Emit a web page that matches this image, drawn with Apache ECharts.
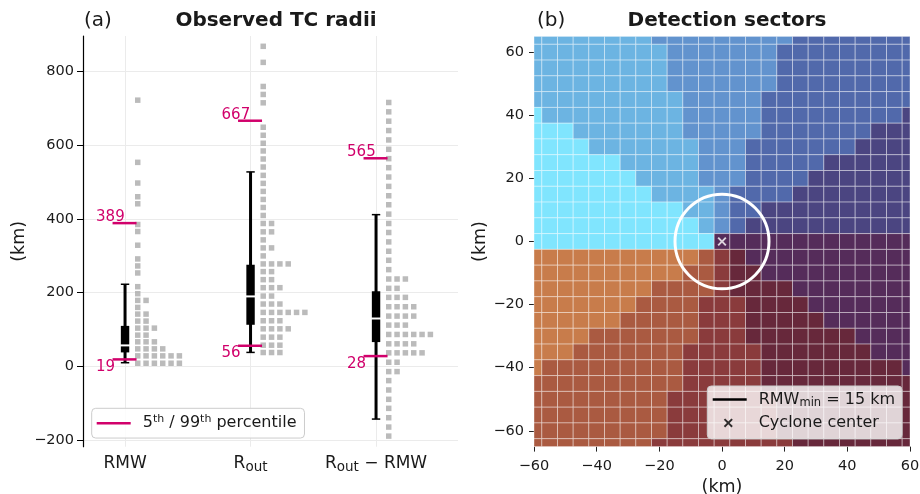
<!DOCTYPE html>
<html>
<head>
<meta charset="utf-8">
<script src="https://cdn.jsdelivr.net/npm/echarts@6/dist/echarts.min.js"></script>
<style>html,body{margin:0;padding:0;background:#fff}#c{width:920px;height:494px}</style>
</head>
<body>
<div id="c"></div>
<script>
// ---------------- data: panel (a) ----------------
const categories = ['RMW', 'R_out', 'R_out − RMW'];
const categoryPos = [1, 2, 3];
const radiiTicks = [-200, 0, 200, 400, 600, 800];
const whiskerLow = [10, 38, -143];
const quartile1 = [38, 113, 66];
const medians = [57, 190, 130];
const quartile3 = [110, 276, 204];
const whiskerHigh = [223, 528, 412];
const pct5 = [19, 56, 28];
const pct99 = [389, 667, 565];
// dot rows: [value (km), number of dots in the row]
const rmwDots = [[8.6,6],[28.6,6],[47.6,4],[66.7,3],[84.9,2],[103.9,3],[123,2],[142,2],[160.2,1],[179.2,2],[197.4,1],[216.4,1],[253.7,1],[272.7,1],[291.8,1],[329,1],[366.2,1],[385.2,1],[441.5,1],[460.6,1],[497.8,1],[554,1],[722.8,1]];
const routDots = [[37.7,3],[57.6,3],[79.4,3],[102,4],[123.9,3],[146.6,6],[169.3,3],[191,2],[213.7,3],[235.5,2],[257.3,2],[278.2,4],[300,1],[321.7,2],[343.5,1],[365.3,2],[388,2],[409.8,1],[431.5,1],[453.3,1],[475.1,1],[496.9,1],[518.7,1],[541.3,1],[563.1,1],[584.9,1],[605.8,1],[627.5,1],[649.3,1],[715.6,1],[738.3,1],[760,1],[825.4,1],[869,1]];
const diffDots = [[-189.2,1],[-164.7,1],[-139.3,1],[-113.9,1],[-89.4,1],[-64,1],[-38.6,1],[-14.1,2],[11.3,2],[36.8,5],[61.3,4],[86.7,6],[112.1,3],[136.6,4],[162,4],[187.4,3],[211.9,2],[237.3,3],[262.7,1],[288.1,1],[312.6,1],[338,1],[363.5,1],[388,1],[413.4,1],[438.8,1],[463.3,1],[488.7,1],[514.1,1],[539.5,1],[564,1],[589.4,1],[614.8,1],[640.3,1],[665.7,1],[691.1,1],[716.5,1]];

// ---------------- data: panel (b) ----------------
const mapX = [-60,-55,-50,-45,-40,-35,-30,-25,-20,-15,-10,-5,0,5,10,15,20,25,30,35,40,45,50,55,60];
const mapY = [65,60,55,50,45,40,35,30,25,20,15,10,5,0,-5,-10,-15,-20,-25,-30,-35,-40,-45,-50,-55,-60,-65];
const mapTicks = [-60,-40,-20,0,20,40,60];
// sector letter of every cell, one string per row (top row y=65 ... bottom row y=-65)
const sectorRows = [
  "BBBBBBBBCCCCCCCCCDDDDDDDD",
  "BBBBBBBBBCCCCCCCDDDDDDDDD",
  "BBBBBBBBBCCCCCCCDDDDDDDDD",
  "BBBBBBBBBCCCCCCCDDDDDDDDD",
  "BBBBBBBBBBCCCCCDDDDDDDDDD",
  "ABBBBBBBBBCCCCCDDDDDDDDDE",
  "AAABBBBBBBCCCCCDDDDDDDEEE",
  "AAAABBBBBBBCCCDDDDDDDEEEE",
  "AAAAAABBBBBCCCDDDDDEEEEEE",
  "AAAAAAABBBBCCCDDDDEEEEEEE",
  "AAAAAAAABBBBCDDDDEEEEEEEE",
  "AAAAAAAAAABBCDDEEEEEEEEEE",
  "AAAAAAAAAAABCDEEEEEEEEEEE",
  "AAAAAAAAAAAAFFFFFFFFFFFFF",
  "JJJJJJJJJJJIHGFFFFFFFFFFF",
  "JJJJJJJJJJIIHGGFFFFFFFFFF",
  "JJJJJJJJIIIIHGGGGFFFFFFFF",
  "JJJJJJJIIIIHHHGGGGFFFFFFF",
  "JJJJJJIIIIIHHHGGGGGFFFFFF",
  "JJJJIIIIIIIHHHGGGGGGGFFFF",
  "JJJIIIIIIIHHHHHGGGGGGGFFF",
  "JIIIIIIIIIHHHHHGGGGGGGGGF",
  "IIIIIIIIIIHHHHHGGGGGGGGGG",
  "IIIIIIIIIHHHHHHHGGGGGGGGG",
  "IIIIIIIIIHHHHHHHGGGGGGGGG",
  "IIIIIIIIIHHHHHHHGGGGGGGGG",
  "IIIIIIIIHHHHHHHHHGGGGGGGG"
];
const sectorColors = {
  A: '#80e5fe', B: '#6cb4e2', C: '#6293ce', D: '#5169ab', E: '#4b4581',
  F: '#552c5a', G: '#67283b', H: '#8a3b3c', I: '#aa5a41', J: '#c87c4b'
};
const rmwMin = 15;
const cycloneCenter = [0, 0];

// ---------------- build ----------------
const FONT = 'DejaVu Sans';
const TXT = '#1a1a1a';
const MAGENTA = '#d1006b';
const DOT_OFFSET = 0.101, DOT_STEP = 0.0664, CELL_HALF = 2.5;
const X_MIN = mapX[0], X_MAX = mapX[mapX.length - 1];
const Y_MAX = mapY[0], Y_MIN = mapY[mapY.length - 1];

function dotData(rows, ci) {
  const out = [];
  rows.forEach(function (r) {
    for (let k = 0; k < r[1]; k++) out.push([categoryPos[ci] + DOT_OFFSET + k * DOT_STEP, r[0]]);
  });
  return out;
}
const allDots = dotData(rmwDots, 0).concat(dotData(routDots, 1), dotData(diffDots, 2));
const boxData = categoryPos.map(function (c, i) { return [c, whiskerLow[i], quartile1[i], medians[i], quartile3[i], whiskerHigh[i]]; });
const pctData = categoryPos.map(function (c, i) { return [c, pct5[i], pct99[i]]; });

const cellData = [];
sectorRows.forEach(function (row, r) {
  for (let c = 0; c < row.length; c++) cellData.push([mapX[c], mapY[r], row[c]]);
});

function minus(v) { return v < 0 ? '\u2212' + Math.abs(v) : String(v); }
function catLabel(v) {
  const name = categories[Math.round(v) - 1];
  if (name === 'RMW') return '{m|RMW}';
  if (name === 'R_out') return '{m|R}{s|out}';
  return '{m|R}{s|out}{m| \u2212 RMW}';
}

const LINE_ICON = 'path://M0,0 L0.01,0 M41,14 L40.99,14 M0,5.75 L34,5.75 L34,8.25 L0,8.25 Z';
const X_ICON = 'path://M0,0 L0.01,0 M41,14 L40.99,14 M11.1,3.85 L12.45,2.5 L15.6,5.65 L18.75,2.5 L20.1,3.85 L16.95,7 L20.1,10.15 L18.75,11.5 L15.6,8.35 L12.45,11.5 L11.1,10.15 L14.25,7 Z';
const X_SYMBOL = 'path://M0,1.5 L1.5,0 L5,3.5 L8.5,0 L10,1.5 L6.5,5 L10,8.5 L8.5,10 L5,6.5 L1.5,10 L0,8.5 L3.5,5 Z';

const legendRich = {
  sup: { fontSize: 11, padding: [0, 0, 8.3, 0], fontFamily: FONT, color: TXT },
  sub: { fontSize: 11.5, padding: [6.8, 0, 0, 0], fontFamily: FONT, color: TXT }
};

const option = {
  animation: false,
  backgroundColor: '#ffffff',
  textStyle: { fontFamily: FONT },
  title: [
    { text: '(a)', left: 79, top: 6, textStyle: { fontSize: 20, fontWeight: 'normal', color: TXT, fontFamily: FONT } },
    { text: 'Observed TC radii', left: 271, top: 6, textAlign: 'center', textStyle: { fontSize: 20, fontWeight: 'bold', color: TXT, fontFamily: FONT } },
    { text: '(b)', left: 532, top: 6, textStyle: { fontSize: 20, fontWeight: 'normal', color: TXT, fontFamily: FONT } },
    { text: 'Detection sectors', left: 722, top: 6, textAlign: 'center', textStyle: { fontSize: 20, fontWeight: 'bold', color: TXT, fontFamily: FONT } }
  ],
  grid: [
    { left: 83, top: 36, width: 375, height: 410.7, outerBoundsMode: 'none', containLabel: false },
    { left: 534, top: 36.4, width: 376, height: 410.2, outerBoundsMode: 'none', containLabel: false }
  ],
  xAxis: [
    {
      gridIndex: 0, type: 'value', min: 0.665, max: 3.653, position: 'bottom',
      axisLine: { show: false, onZero: false },
      axisTick: { show: false, customValues: categoryPos },
      axisLabel: {
        customValues: categoryPos, margin: 4, formatter: catLabel, color: TXT,
        rich: {
          m: { fontSize: 17, padding: [4, 0, 4, 0], fontFamily: FONT, color: TXT },
          s: { fontSize: 13.5, padding: [9, 0, 0, 0], fontFamily: FONT, color: TXT }
        }
      },
      splitLine: { show: true, lineStyle: { color: '#ebebeb', width: 1 } }
    },
    {
      gridIndex: 1, type: 'value', min: X_MIN, max: X_MAX, interval: 20, position: 'bottom',
      name: '(km)', nameLocation: 'middle', nameGap: 28,
      nameTextStyle: { fontSize: 17.5, color: TXT, fontFamily: FONT },
      axisLine: { show: false, onZero: false },
      axisTick: { show: true, length: 5, lineStyle: { color: '#222' } },
      axisLabel: { fontSize: 14.5, color: TXT, margin: 12, formatter: minus, fontFamily: FONT },
      splitLine: { show: false }
    }
  ],
  yAxis: [
    {
      gridIndex: 0, type: 'value', min: -218, max: 897, position: 'left',
      name: '(km)', nameLocation: 'middle', nameGap: 55,
      nameTextStyle: { fontSize: 17.5, color: TXT, fontFamily: FONT },
      axisLine: { show: true, onZero: false, lineStyle: { color: '#000', width: 1.2 } },
      axisTick: { show: true, length: 6, customValues: radiiTicks, lineStyle: { color: '#000' } },
      axisLabel: { customValues: radiiTicks, fontSize: 14.5, color: TXT, margin: 9, formatter: minus, fontFamily: FONT },
      splitLine: { show: true, lineStyle: { color: '#ebebeb', width: 1 } }
    },
    {
      gridIndex: 1, type: 'value', min: Y_MIN, max: Y_MAX, position: 'left',
      name: '(km)', nameLocation: 'middle', nameGap: 44,
      nameTextStyle: { fontSize: 17.5, color: TXT, fontFamily: FONT },
      axisLine: { show: false, onZero: false },
      axisTick: { show: true, length: 5, customValues: mapTicks, lineStyle: { color: '#222' } },
      axisLabel: { customValues: mapTicks, fontSize: 14.5, color: TXT, margin: 10, formatter: minus, fontFamily: FONT },
      splitLine: { show: false }
    }
  ],
  legend: [
    {
      data: [{ name: 'percentile', icon: LINE_ICON }],
      left: 91.7, top: 408.3, orient: 'vertical', selectedMode: false,
      itemWidth: 41, itemHeight: 14, padding: [5.3, 8, 6.3, 5],
      backgroundColor: 'rgba(255,255,255,0.85)', borderColor: '#cccccc', borderWidth: 1, borderRadius: 4,
      formatter: function () { return '5{sup|th} / 99{sup|th} percentile'; },
      textStyle: { fontSize: 16, lineHeight: 17, color: TXT, fontFamily: FONT, rich: legendRich }
    },
    {
      data: [{ name: 'rmw', icon: LINE_ICON }, { name: 'center', icon: X_ICON }],
      left: 707.3, top: 386, orient: 'vertical', selectedMode: false, itemGap: 5.6,
      itemWidth: 41, itemHeight: 14, padding: [4.9, 7, 7.5, 5.4],
      backgroundColor: 'rgba(255,255,255,0.8)', borderColor: '#cccccc', borderWidth: 1, borderRadius: 4,
      formatter: function (n) { return n === 'rmw' ? 'RMW{sub|min} = 15 km' : 'Cyclone center'; },
      textStyle: { fontSize: 16, lineHeight: 17, color: TXT, fontFamily: FONT, rich: legendRich }
    }
  ],
  series: [
    {
      type: 'scatter', name: 'dots', xAxisIndex: 0, yAxisIndex: 0, z: 2,
      symbol: 'rect', symbolSize: 5.5, itemStyle: { color: '#aaaaaa' },
      data: allDots, silent: true
    },
    {
      type: 'custom', name: 'box', xAxisIndex: 0, yAxisIndex: 0, z: 3, silent: true,
      data: boxData,
      renderItem: function (params, api) {
        const c = api.value(0);
        const xc = api.coord([c, 0])[0];
        const y = function (i) { return api.coord([c, api.value(i)])[1]; };
        const lo = y(1), a = y(2), m = y(3), b = y(4), hi = y(5);
        return { type: 'group', children: [
          { type: 'line', shape: { x1: xc, y1: lo, x2: xc, y2: hi }, style: { stroke: '#000', lineWidth: 3 } },
          { type: 'line', shape: { x1: xc - 4.2, y1: hi, x2: xc + 4.2, y2: hi }, style: { stroke: '#000', lineWidth: 1.5 } },
          { type: 'line', shape: { x1: xc - 4.2, y1: lo, x2: xc + 4.2, y2: lo }, style: { stroke: '#000', lineWidth: 1.5 } },
          { type: 'rect', shape: { x: xc - 4.2, y: b, width: 8.4, height: a - b }, style: { fill: '#000' } },
          { type: 'rect', shape: { x: xc - 5, y: m - 1, width: 10, height: 2 }, style: { fill: '#fff' } }
        ] };
      }
    },
    {
      type: 'custom', name: 'percentile', xAxisIndex: 0, yAxisIndex: 0, z: 4, silent: true,
      itemStyle: { color: MAGENTA },
      data: pctData,
      renderItem: function (params, api) {
        const c = api.value(0);
        const xc = api.coord([c, 0])[0];
        const yl = api.coord([c, api.value(1)])[1];
        const yh = api.coord([c, api.value(2)])[1];
        return { type: 'group', children: [
          { type: 'line', shape: { x1: xc - 12.5, y1: yl, x2: xc + 11.5, y2: yl }, style: { stroke: MAGENTA, lineWidth: 2.5 } },
          { type: 'line', shape: { x1: xc - 12.5, y1: yh, x2: xc + 11.5, y2: yh }, style: { stroke: MAGENTA, lineWidth: 2.5 } },
          { type: 'text', style: { text: String(api.value(2)), x: xc - 29, y: yh + 1.4, fill: MAGENTA, fontSize: 15, fontFamily: FONT, align: 'left', verticalAlign: 'bottom' } },
          { type: 'text', style: { text: String(api.value(1)), x: xc - 29, y: yl + 0.2, fill: MAGENTA, fontSize: 15, fontFamily: FONT, align: 'left', verticalAlign: 'top' } }
        ] };
      }
    },
    {
      type: 'custom', name: 'sectors', xAxisIndex: 1, yAxisIndex: 1, z: 2, clip: false, silent: true,
      data: cellData,
      renderItem: function (params, api) {
        const x = api.value(0), y = api.value(1);
        const p0 = api.coord([Math.max(x - CELL_HALF, X_MIN), Math.min(y + CELL_HALF, Y_MAX)]);
        const p1 = api.coord([Math.min(x + CELL_HALF, X_MAX), Math.max(y - CELL_HALF, Y_MIN)]);
        const letter = cellData[params.dataIndex][2];
        return { type: 'rect', shape: { x: p0[0], y: p0[1], width: p1[0] - p0[0], height: p1[1] - p0[1] },
          style: { fill: sectorColors[letter], stroke: 'rgba(255,255,255,0.38)', lineWidth: 1 } };
      }
    },
    {
      type: 'custom', name: 'rmw', xAxisIndex: 1, yAxisIndex: 1, z: 5, silent: true,
      itemStyle: { color: '#000' },
      data: [[cycloneCenter[0], cycloneCenter[1], rmwMin]],
      renderItem: function (params, api) {
        const c = api.coord([api.value(0), api.value(1)]);
        const s = api.size([api.value(2), api.value(2)]);
        return { type: 'ellipse', shape: { cx: c[0], cy: c[1], rx: s[0], ry: s[1] },
          style: { fill: 'none', stroke: '#ffffff', lineWidth: 3 } };
      }
    },
    {
      type: 'scatter', name: 'center', xAxisIndex: 1, yAxisIndex: 1, z: 6, silent: true,
      symbol: X_SYMBOL, symbolSize: 9, itemStyle: { color: '#000' },
      data: [{ value: cycloneCenter, itemStyle: { color: '#ffffff' } }]
    }
  ]
};

const chart = echarts.init(document.getElementById('c'), null, { renderer: 'canvas', width: 920, height: 494 });
chart.setOption(option);
</script>
</body>
</html>
